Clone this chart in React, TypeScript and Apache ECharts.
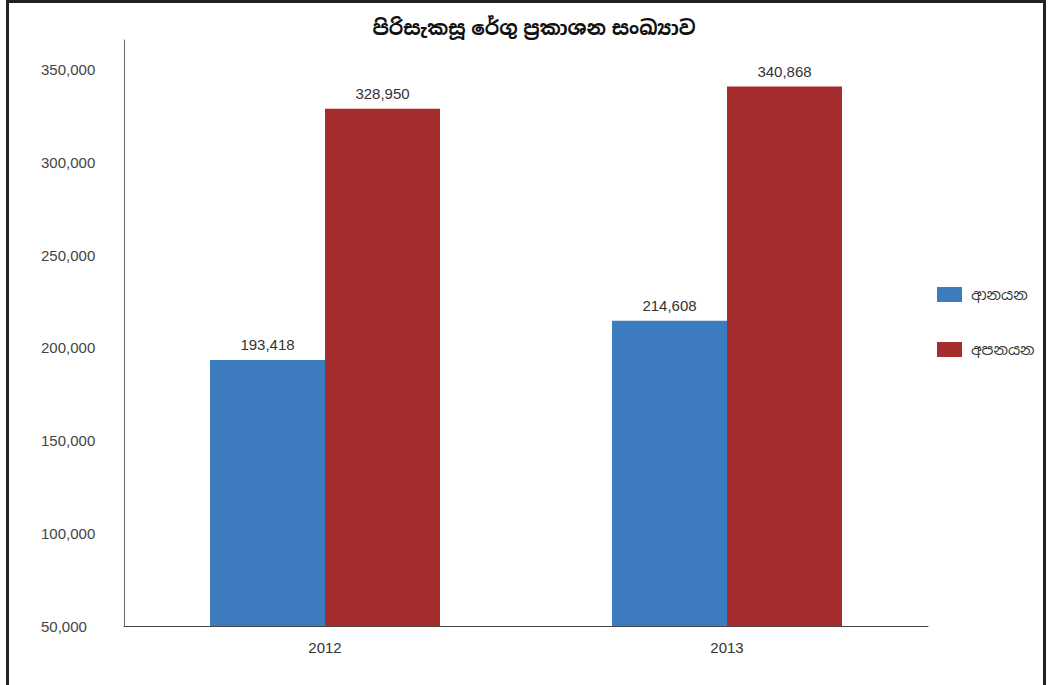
import React, { useEffect, useRef } from "react";
import * as echarts from "echarts";

const categories = ["2012", "2013"];
const importsName = "ආනයන";
const exportsName = "අපනයන";
const importValues = [193418, 214608];
const exportValues = [328950, 340868];
const titleText = "පිරිසැකසූ රේගු ප්‍රකාශන සංඛ්‍යාව";

const fontFamily = "'Liberation Sans', Arial, 'Noto Sans Sinhala', 'Noto Sans', sans-serif";
const fmt = (v: number) => v.toLocaleString("en-US");

export default function App() {
  const ref = useRef<HTMLDivElement>(null);
  useEffect(() => {
    document.body.style.margin = "0";
    const chart = echarts.init(ref.current!, null, { renderer: "svg" });
    chart.setOption({
      animation: false,
      backgroundColor: "#ffffff",
      title: {
        text: titleText,
        left: 529,
        textAlign: "center",
        top: 13,
        textStyle: { fontSize: 20, fontWeight: "bold", color: "#111", fontFamily },
      },
      legend: {
        orient: "vertical",
        left: 932,
        top: 282,
        itemWidth: 25,
        itemHeight: 15,
        itemGap: 40,
        icon: "rect",
        textStyle: { fontSize: 15, color: "#333", fontFamily, padding: [18, 0, 0, 4] },
        data: [importsName, exportsName],
      },
      grid: { left: 124, right: 120, top: 40, bottom: 59 },
      xAxis: {
        type: "category",
        data: categories,
        axisLine: { lineStyle: { color: "#444", width: 1 } },
        axisTick: { show: false },
        axisLabel: { fontSize: 15, color: "#333", margin: 14, fontFamily },
      },
      yAxis: {
        type: "value",
        min: 50000,
        max: 366000,
        interval: 50000,
        axisLine: { show: true, lineStyle: { color: "#666", width: 1 } },
        axisTick: { show: false },
        splitLine: { show: false },
        axisLabel: {
          fontSize: 15,
          color: "#444",
          align: "left",
          margin: 83,
          fontFamily,
          showMaxLabel: false,
          formatter: (v: number) => fmt(v),
        },
      },
      series: [
        {
          name: importsName,
          type: "bar",
          data: importValues,
          barWidth: 115,
          barGap: "0%",
          itemStyle: { color: "#3e7cc0" },
          label: {
            show: true,
            position: "top",
            distance: 8,
            fontSize: 15,
            color: "#333",
            fontFamily,
            formatter: (p: any) => fmt(p.value),
          },
        },
        {
          name: exportsName,
          type: "bar",
          data: exportValues,
          barWidth: 115,
          barGap: "0%",
          itemStyle: { color: "#a52d2e" },
          label: {
            show: true,
            position: "top",
            distance: 8,
            fontSize: 15,
            color: "#333",
            fontFamily,
            formatter: (p: any) => fmt(p.value),
          },
        },
      ],
      graphic: [
        {
          type: "rect",
          shape: { x: 7.5, y: 1.5, width: 1037, height: 720 },
          style: { fill: "none", stroke: "#222", lineWidth: 3 },
          silent: true,
        },
      ],
    });
    return () => chart.dispose();
  }, []);
  return (
    <div
      ref={ref}
      style={{ position: "fixed", left: 0, top: 0, width: 1048, height: 685 }}
    />
  );
}
